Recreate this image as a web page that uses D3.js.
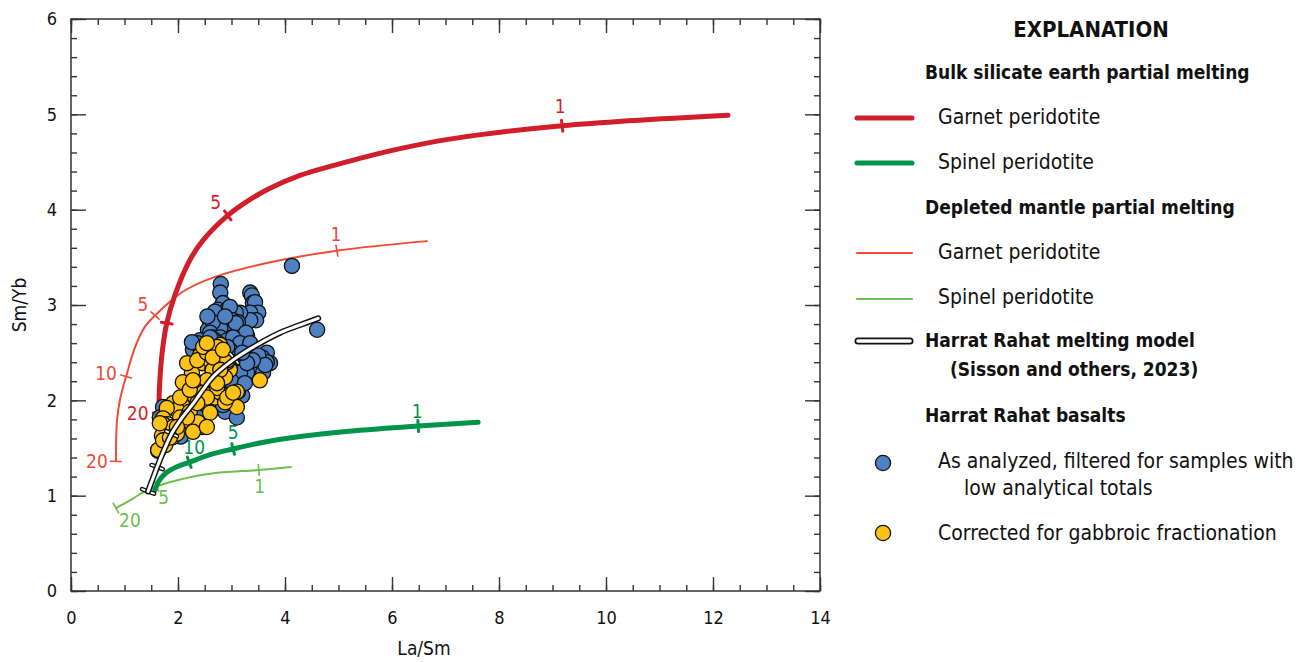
<!DOCTYPE html>
<html>
<head>
<meta charset="utf-8">
<script src="https://cdn.jsdelivr.net/npm/d3@7"></script>
<style>
  body { margin: 0; background: #fff; }
  svg text { font-family: "Liberation Sans Narrow", "DejaVu Sans Condensed", "Arial Narrow", sans-serif; fill: #111; }
  .axis path { display: none; }
  .axis line { stroke: #333; stroke-width: 1.4; }
</style>
</head>
<body>
<svg id="chart" width="1303" height="662"></svg>
<script>
// ---- data (La/Sm, Sm/Yb) ----
var bseGarnet = [[1.64,1.865],[1.66,2.2],[1.71,2.53],[1.79,2.81],[1.94,3.10],[2.22,3.47],[2.47,3.68],[2.93,3.94],[3.3,4.09],[3.7,4.22],[4.28,4.36],[5.21,4.51],[6.15,4.64],[7.08,4.74],[9.18,4.88],[12.28,4.99]];
var bseGarnetTicks = [{f:"20",x:1.64,y:1.865},{f:"",x:1.79,y:2.81},{f:"5",x:2.93,y:3.94},{f:"1",x:9.18,y:4.88}];

var bseSpinel = [[1.57,1.06],[1.65,1.16],[1.78,1.24],[1.97,1.30],[2.21,1.35],[2.60,1.43],[3.03,1.49],[3.6,1.56],[4.28,1.62],[5.3,1.68],[6.49,1.73],[7.61,1.77]];
var bseSpinelTicks = [{f:"10",x:2.21,y:1.35},{f:"5",x:3.03,y:1.49},{f:"1",x:6.49,y:1.73}];

var dmGarnet = [[0.84,1.36],[0.86,1.79],[0.92,2.02],[1.03,2.25],[1.20,2.56],[1.38,2.77],[1.57,2.89],[1.88,3.05],[2.15,3.16],[2.72,3.30],[3.66,3.44],[4.97,3.57],[6.65,3.67]];
var dmGarnetTicks = [{f:"20",x:0.84,y:1.36},{f:"10",x:1.03,y:2.25},{f:"5",x:1.57,y:2.89},{f:"1",x:4.97,y:3.57}];

var dmSpinel = [[0.84,0.87],[1.10,0.95],[1.30,1.02],[1.48,1.07],[1.66,1.11],[2.04,1.17],[2.60,1.23],[3.51,1.27],[4.11,1.30]];
var dmSpinelTicks = [{f:"20",x:0.84,y:0.87},{f:"5",x:1.60,y:1.10},{f:"1",x:3.51,y:1.27}];

var rahatModel = [[1.44,1.045],[1.53,1.18],[1.61,1.30],[1.74,1.48],[1.88,1.65],[2.08,1.82],[2.29,1.97],[2.66,2.25],[3.07,2.44],[3.47,2.58],[3.91,2.71],[4.28,2.79],[4.62,2.86]];
var rahatModelTicks = [[1.44,1.045],[1.61,1.30],[1.88,1.65],[3.05,2.44]];

var asAnalyzed = [[4.13,3.41],[4.60,2.74],[2.80,3.22],[2.79,3.13],[2.84,3.02],[2.75,2.95],[2.92,2.95],[2.69,2.93],
  [3.35,3.13],[3.38,3.10],[3.40,3.02],[3.44,3.03],[3.50,2.92],[3.35,2.92],[3.46,2.84],[3.35,2.84],[3.16,2.92],
  [3.08,2.92],[2.97,2.98],[3.03,2.84],[3.12,2.82],[2.94,2.81],[2.79,2.76],[2.60,2.83],[2.56,2.74],[2.65,2.82],
  [2.60,2.71],[2.65,2.66],[2.79,2.66],[2.69,2.63],[2.92,2.63],[3.08,2.81],[3.29,2.68],[3.31,2.58],[3.10,2.58],
  [3.27,2.71],[3.03,2.66],[3.16,2.60],[3.35,2.60],[2.97,2.53],[2.92,2.56],[2.41,2.63],[2.36,2.53],[2.54,2.53],
  [2.28,2.53],[2.41,2.56],[2.36,2.60],[3.48,2.45],[3.66,2.50],[3.72,2.39],[3.40,2.35],[3.59,2.29],[3.29,2.29],
  [3.16,2.35],[3.22,2.39],[3.16,2.29],[3.57,2.45],[3.66,2.40],[3.50,2.47],[3.63,2.37],[3.40,2.42],[3.29,2.39],
  [2.75,2.60],[2.60,2.66],[2.47,2.53],[2.69,1.93],[3.10,2.03],[3.20,2.05],[2.47,1.87],[1.72,1.93],[1.66,1.82],
  [2.60,1.93],[3.12,2.09],[2.88,1.88],[3.10,1.82],[2.37,1.82],[3.10,2.14],[1.63,1.47],[2.32,1.76],[2.45,1.72],
  [2.26,2.61],[2.88,2.05],[3.0,2.2],[3.25,2.18],[2.55,2.88],[2.88,2.88],[3.2,2.5],[2.84,1.95],[2.05,1.62]];

var corrected = [[2.64,2.55],[2.82,2.47],[2.45,2.39],[2.64,2.32],[2.26,2.29],[2.36,2.19],[2.19,2.11],[2.56,2.14],
  [2.75,2.23],[2.09,2.00],[1.91,1.97],[2.32,2.03],[2.50,2.00],[2.69,2.03],[1.98,1.90],[1.79,1.92],[1.72,1.81],
  [1.81,1.75],[2.04,1.82],[2.22,1.88],[2.17,1.76],[2.37,1.77],[2.60,1.87],[2.00,1.69],[2.28,1.67],[2.54,1.72],
  [2.79,2.08],[2.09,2.19],[2.84,2.37],[2.41,2.47],[3.53,2.21],[3.10,2.09],[2.94,2.05],[3.10,1.93],[2.88,1.98],
  [2.79,2.58],[2.84,2.51],[2.60,2.42],[2.82,2.39],[2.65,2.32],[2.97,2.32],[2.88,2.24],[2.54,2.21],[2.73,2.13],
  [2.47,2.08],[2.92,2.40],[1.72,1.75],[1.91,1.72],[1.70,1.63],[1.89,1.61],[1.76,1.53],[1.98,1.65],[1.63,1.48],
  [1.72,1.58],[1.66,1.76],[2.04,2.03],[2.22,2.11],[2.28,2.21],[2.17,2.39],[2.36,2.42],[2.54,2.50],[2.47,2.56],
  [2.73,2.56],[2.65,2.45],[2.92,2.42],[2.84,2.53],[2.79,2.32],[2.73,2.18],[2.54,2.03],[2.36,1.97],[2.17,1.82],
  [1.98,1.72],[1.85,1.61],[2.92,2.03],[3.03,2.08],[2.54,2.60]];

var xTicks = [0, 2, 4, 6, 8, 10, 12, 14];
var yTicks = [0, 1, 2, 3, 4, 5, 6];

// ---- colours ----
var cThickRed = "#d01f2a", cThinRed = "#ef4b37", cThickGreen = "#00934a", cThinGreen = "#6cbf4b";
var cBlue = "#4f81c2", cYellow = "#fdc218";

var svg = d3.select("#chart");

var x = d3.scaleLinear().domain([0, 14]).range([71, 820]);
var y = d3.scaleLinear().domain([0, 6]).range([591, 19]);

/** axes: major and minor ticks on all four sides, pointing inward **/
function addAxis(axis, tr) {
  svg.append("g").attr("class", "axis").attr("transform", tr).call(axis);
}
addAxis(d3.axisBottom(x).tickValues(d3.range(0, 14.01, 0.5)).tickSize(-6).tickFormat(""), "translate(0,591)");
addAxis(d3.axisBottom(x).tickValues(xTicks).tickSize(-14).tickPadding(20).tickFormat(d3.format("d")), "translate(0,591)");
addAxis(d3.axisTop(x).tickValues(d3.range(0, 14.01, 0.5)).tickSize(-6).tickFormat(""), "translate(0,19)");
addAxis(d3.axisTop(x).tickValues(xTicks).tickSize(-14).tickFormat(""), "translate(0,19)");
addAxis(d3.axisLeft(y).tickValues(d3.range(0, 6.01, 0.2)).tickSize(-6).tickFormat(""), "translate(71,0)");
addAxis(d3.axisLeft(y).tickValues(yTicks).tickSize(-15).tickPadding(14).tickFormat(d3.format("d")), "translate(71,0)");
addAxis(d3.axisRight(y).tickValues(d3.range(0, 6.01, 0.2)).tickSize(-6).tickFormat(""), "translate(820,0)");
addAxis(d3.axisRight(y).tickValues(yTicks).tickSize(-15).tickFormat(""), "translate(820,0)");

svg.selectAll(".axis text").style("font-size", "18px").style("fill", "#111");

svg.append("rect")
  .attr("x", 71).attr("y", 19).attr("width", 749).attr("height", 572)
  .attr("fill", "none").attr("stroke", "#333").attr("stroke-width", 1.5);

svg.append("text")
  .attr("x", 424).attr("y", 655)
  .attr("text-anchor", "middle").style("font-size", "19px")
  .text("La/Sm");

svg.append("text")
  .attr("transform", "translate(26,305) rotate(-90)")
  .attr("text-anchor", "middle").style("font-size", "19px")
  .text("Sm/Yb");

/** melting curves **/
var line = d3.line()
  .x(function(d) { return x(d[0]); })
  .y(function(d) { return y(d[1]); })
  .curve(d3.curveCatmullRom.alpha(0.5));

// perpendicular tick through a curve point, using the local direction of the curve
function tickAt(curve, px, py, len) {
  var best = 0, bd = Infinity;
  for (var i = 0; i < curve.length - 1; i++) {
    var mx = (x(curve[i][0]) + x(curve[i+1][0])) / 2, my = (y(curve[i][1]) + y(curve[i+1][1])) / 2;
    var dd = (mx - x(px)) * (mx - x(px)) + (my - y(py)) * (my - y(py));
    if (dd < bd) { bd = dd; best = i; }
  }
  var dx = x(curve[best+1][0]) - x(curve[best][0]), dy = y(curve[best+1][1]) - y(curve[best][1]);
  var n = Math.sqrt(dx*dx + dy*dy);
  var nx = -dy / n * len / 2, ny = dx / n * len / 2;
  return [x(px) - nx, y(py) - ny, x(px) + nx, y(py) + ny];
}

function drawCurve(curve, ticks, color, width, tickW, labelOffsets) {
  var g = svg.append("g");
  g.append("path").datum(curve)
    .attr("d", line).attr("fill", "none")
    .attr("stroke", color).attr("stroke-width", width)
    .attr("stroke-linecap", "round");
  ticks.forEach(function(t, i) {
    var s = tickAt(curve, t.x, t.y, 11);
    g.append("line")
      .attr("x1", s[0]).attr("y1", s[1]).attr("x2", s[2]).attr("y2", s[3])
      .attr("stroke", color).attr("stroke-width", tickW).attr("stroke-linecap", "round");
    if (t.f) {
      g.append("text")
        .attr("x", x(t.x) + labelOffsets[i][0])
        .attr("y", y(t.y) + labelOffsets[i][1])
        .attr("dy", "0.35em")
        .attr("text-anchor", "middle")
        .style("font-size", "19px").style("fill", color)
        .text(t.f);
    }
  });
}

drawCurve(dmGarnet, dmGarnetTicks, cThinRed, 2, 1.6, [[-19,0],[-20,-3],[-12,-11],[-1,-16]]);
drawCurve(dmSpinel, dmSpinelTicks, cThinGreen, 2, 1.6, [[14,12],[7,11],[1,16]]);
drawCurve(bseGarnet, bseGarnetTicks, cThickRed, 5, 3, [[-21,0],[0,0],[-12,-13],[-2,-19]]);
drawCurve(bseSpinel, bseSpinelTicks, cThickGreen, 5, 3, [[5,-15],[0,-17],[-1,-15]]);

/** basalt samples **/
svg.append("g").selectAll("circle")
  .data(asAnalyzed).enter().append("circle")
  .attr("cx", function(d) { return x(d[0]); })
  .attr("cy", function(d) { return y(d[1]); })
  .attr("r", 7.6)
  .attr("fill", cBlue).attr("stroke", "#111").attr("stroke-width", 1.3);

svg.append("g").selectAll("circle")
  .data(corrected).enter().append("circle")
  .attr("cx", function(d) { return x(d[0]); })
  .attr("cy", function(d) { return y(d[1]); })
  .attr("r", 7.6)
  .attr("fill", cYellow).attr("stroke", "#111").attr("stroke-width", 1.3);

/** Harrat Rahat model: white line with black outline **/
var mg = svg.append("g");
rahatModelTicks.forEach(function(t, i) {
  var s = tickAt(rahatModel, t[0], t[1], i == 0 ? 13 : 12);
  mg.append("line")
    .attr("x1", s[0]).attr("y1", s[1]).attr("x2", s[2]).attr("y2", s[3])
    .attr("stroke", "#111").attr("stroke-width", 4.5).attr("stroke-linecap", "round");
  mg.append("line")
    .attr("x1", s[0]).attr("y1", s[1]).attr("x2", s[2]).attr("y2", s[3])
    .attr("stroke", "#fff").attr("stroke-width", 1.8).attr("stroke-linecap", "round");
});
mg.append("path").datum(rahatModel)
  .attr("d", line).attr("fill", "none")
  .attr("stroke", "#111").attr("stroke-width", 6).attr("stroke-linecap", "round");
mg.append("path").datum(rahatModel)
  .attr("d", line).attr("fill", "none")
  .attr("stroke", "#fff").attr("stroke-width", 3).attr("stroke-linecap", "round");

/** legend **/
var lg = svg.append("g");
lg.append("text").attr("x", 1091).attr("y", 37).attr("text-anchor", "middle")
  .style("font-size", "22px").style("font-weight", "bold").text("EXPLANATION");

function header(txt, ty, tx) {
  lg.append("text").attr("x", tx || 925).attr("y", ty).attr("dy", "0.35em")
    .style("font-size", "19px").style("font-weight", "bold").text(txt);
}
function item(txt, ty, tx) {
  lg.append("text").attr("x", tx || 938).attr("y", ty).attr("dy", "0.35em")
    .style("font-size", "21px").text(txt);
}
function swatch(ty, color, w) {
  lg.append("line").attr("x1", 857).attr("x2", 912).attr("y1", ty).attr("y2", ty)
    .attr("stroke", color).attr("stroke-width", w).attr("stroke-linecap", "round");
}

header("Bulk silicate earth partial melting", 72);
swatch(118, cThickRed, 5); item("Garnet peridotite", 117);
swatch(163, cThickGreen, 5); item("Spinel peridotite", 162);
header("Depleted mantle partial melting", 207);
swatch(253, cThinRed, 2.2); item("Garnet peridotite", 252);
swatch(299, cThinGreen, 2.2); item("Spinel peridotite", 297);

lg.append("line").attr("x1", 858).attr("x2", 910).attr("y1", 341).attr("y2", 341)
  .attr("stroke", "#111").attr("stroke-width", 7).attr("stroke-linecap", "round");
lg.append("line").attr("x1", 858).attr("x2", 910).attr("y1", 341).attr("y2", 341)
  .attr("stroke", "#fff").attr("stroke-width", 3.6).attr("stroke-linecap", "round");
header("Harrat Rahat melting model", 340);
header("(Sisson and others, 2023)", 369, 950);
header("Harrat Rahat basalts", 415);

lg.append("circle").attr("cx", 883).attr("cy", 463).attr("r", 7.6)
  .attr("fill", cBlue).attr("stroke", "#111").attr("stroke-width", 1.3);
item("As analyzed, filtered for samples with", 461);
item("low analytical totals", 488, 964);
lg.append("circle").attr("cx", 883).attr("cy", 533).attr("r", 7.6)
  .attr("fill", cYellow).attr("stroke", "#111").attr("stroke-width", 1.3);
item("Corrected for gabbroic fractionation", 533);
</script>
</body>
</html>
